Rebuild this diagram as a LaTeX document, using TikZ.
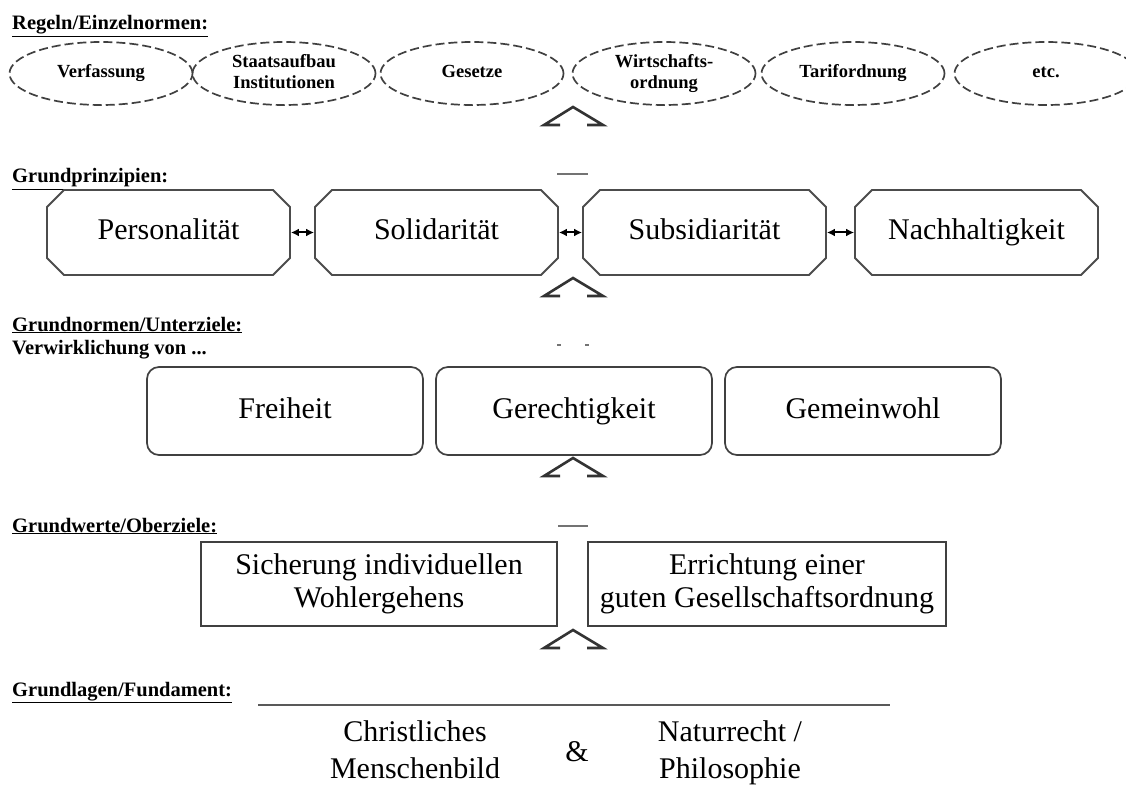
\documentclass[tikz,border=0pt]{standalone}
\usepackage{fontspec}
\setmainfont{Liberation Serif}
\usetikzlibrary{shapes.geometric,shapes.misc,arrows.meta}

\begin{document}
\begin{tikzpicture}[x=1pt, y=-1pt, >={Latex[length=8pt,width=8pt]},
  head/.style={anchor=base west, inner sep=0pt, font=\fontsize{20.5}{22}\selectfont\bfseries},
  rulebox/.style={ellipse, draw=black!75, line width=1.7pt, dash pattern=on 9pt off 4pt,
    minimum width=183pt, minimum height=63pt, inner sep=0pt, align=center,
    font=\fontsize{18.5}{21}\selectfont\bfseries},
  prinbox/.style={chamfered rectangle, chamfered rectangle xsep=24pt, draw=black!70,
    line width=1.9pt, minimum width=243pt, minimum height=85pt, inner sep=0pt,
    text height=21pt, text depth=7pt, font=\fontsize{30}{30}\selectfont},
  normbox/.style={rectangle, rounded corners=12pt, draw=black!75, line width=1.7pt,
    minimum width=276pt, minimum height=88pt, inner sep=0pt,
    text height=21pt, text depth=7pt, font=\fontsize{30}{30}\selectfont},
  wertbox/.style={rectangle, draw=black!75, line width=1.9pt, minimum height=84pt,
    inner sep=0pt, align=center, font=\fontsize{30}{33}\selectfont},
  basis/.style={align=center, inner sep=0pt, font=\fontsize{30}{37}\selectfont},
  chev/.style={draw=black!80, line width=2.6pt},
  shaft/.style={draw=black!55, line width=2pt}]

\useasboundingbox (0,0) rectangle (1126,786);

% Regeln / Einzelnormen
\node[head] (h1) at (12,30) {\underline{Regeln/Einzelnormen:}};
\foreach \name/\cx/\txt in {verf/101/Verfassung, staat/284/{Staatsaufbau\\Institutionen},
    ges/472/Gesetze, wirt/664/{Wirtschafts-\\ordnung}, tarif/853/Tarifordnung, etc/1046/etc.}
  \node[rulebox] (\name) at (\cx,73.5) {\txt\vphantom{Wg}};

% Grundprinzipien
\node[head] (h2) at (12,183) {\underline{Grundprinzipien:}};
\node[prinbox] (pers) at (168.5,232.5) {Personalität};
\node[prinbox] (soli) at (436.5,232.5) {Solidarität};
\node[prinbox] (subs) at (704.5,232.5) {Subsidiarität};
\node[prinbox] (nach) at (976.5,232.5) {Nachhaltigkeit};
\draw[<->, line width=2pt] (pers.east) -- (soli.west);
\draw[<->, line width=2pt] (soli.east) -- (subs.west);
\draw[<->, line width=2pt] (subs.east) -- (nach.west);

% Grundnormen / Unterziele
\node[head] (h3) at (12,331) {\underline{Grundnormen/Unterziele:}};
\node[head] (h3b) at (12,354) {Verwirklichung von ...};
\node[normbox] (frei) at (285,411) {Freiheit};
\node[normbox] (gere) at (574,411) {Gerechtigkeit};
\node[normbox] (gemw) at (863,411) {Gemeinwohl};

% Grundwerte / Oberziele
\node[head] (h4) at (12,532) {\underline{Grundwerte/Oberziele:}};
\node[wertbox, minimum width=356pt] (wohl) at (379,584) {Sicherung individuellen\\Wohlergehens\vphantom{g}};
\node[wertbox, minimum width=358pt] (ordn) at (767,584) {Errichtung einer\\guten Gesellschaftsordnung};

% Grundlagen / Fundament
\node[head] (h5) at (12,696) {\underline{Grundlagen/Fundament:}};
\coordinate (fl) at (258,705);
\coordinate (fr) at (890,705);
\draw[line width=1.8pt, draw=black!65] (fl) -- (fr);
\node[basis] (chr) at (415,753) {Christliches\\Menschenbild\vphantom{p}};
\node[basis] (und) at (577,752) {\&};
\node[basis] (nat) at (730,753) {Naturrecht /\\Philosophie};

% Pfeilspitzen zwischen den Ebenen
\foreach \t in {107,278,458,630}
  \draw[chev] (560,{\t+18}) -- (544,{\t+18}) -- (573,\t) -- (603,{\t+18}) -- (587,{\t+18});
\draw[shaft] (557,174) -- (588,174);
\draw[shaft] (557,345) -- (561,345);
\draw[shaft] (585,345) -- (589,345);
\draw[shaft] (558,526) -- (588,526);

\end{tikzpicture}
\end{document}
